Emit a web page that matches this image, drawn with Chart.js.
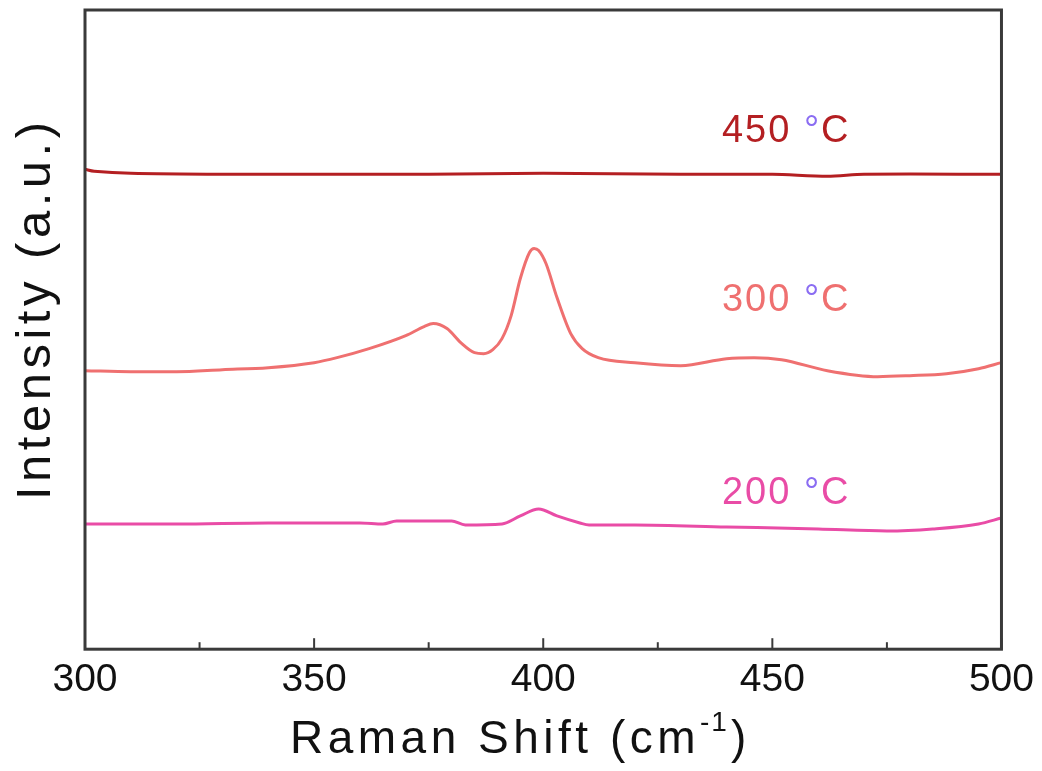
<!DOCTYPE html>
<html>
<head>
<meta charset="utf-8">
<script src="https://cdn.jsdelivr.net/npm/chart.js@4.4.1/dist/chart.umd.min.js"></script>
<style>
  html, body { margin: 0; padding: 0; background: #fff; }
  #wrap { width: 1042px; height: 771px; position: relative; }
</style>
</head>
<body>
<div id="wrap"><canvas id="ramanChart"></canvas></div>
<script>
// Raman shift (cm-1) and offset intensity (a.u.)
const shift450 = [300, 302, 310, 330, 350, 375, 400, 430, 450, 462, 470, 500];
const int450   = [479, 477, 475, 474, 474, 474, 475, 474, 474, 472, 474, 474];

const shift300 = [300, 310, 320, 330, 340, 350, 355, 362, 370, 374, 376, 379, 382, 385, 387, 389, 391, 393, 395, 397, 398, 399, 400.6, 403, 406, 408.5, 412, 420, 430, 440, 446, 452, 462, 473, 480, 488, 495, 500];
const int300   = [278, 277, 277, 279, 281, 286, 291, 300, 313, 322, 325, 320, 306, 296, 295, 299, 310, 333, 370, 396, 400, 398, 385, 351, 315, 300, 291, 286, 283, 290, 291, 289, 278, 272, 273, 275, 280, 286];

const shift200 = [300, 320, 340, 360, 365, 368, 380, 383, 391, 395, 399, 403, 408, 410, 420, 440, 460, 475, 485, 495, 500];
const int200   = [125, 125, 126, 126, 125, 128, 128, 124, 125, 133, 140, 133, 126, 124, 124, 122, 120, 118, 120, 125, 131];

const xTicks = [300, 350, 400, 450, 500];
const minorTicks = [325, 375, 425, 475];

const seriesNames = ['450', '300', '200'];
const lineColors = ['#b41f22', '#ef7070', '#e94ca6'];
const labelY = [506, 338, 145];
const labelX = 439;

const FONT = '"Liberation Sans", Arial, sans-serif';

function pts(xs, ys) {
    return xs.map((x, i) => ({ x: x, y: ys[i] }));
}

// frame + inward ticks on the bottom axis
const framePlugin = {
    id: 'frame',
    afterDatasetsDraw(chart) {
        const { ctx, chartArea: a, scales } = chart;
        ctx.save();
        ctx.strokeStyle = '#3a3a3a';
        ctx.lineWidth = 3;
        ctx.strokeRect(a.left, a.top, a.right - a.left, a.bottom - a.top);
        ctx.lineWidth = 2;
        xTicks.forEach(v => {
            const px = scales.x.getPixelForValue(v);
            ctx.beginPath(); ctx.moveTo(px, a.bottom); ctx.lineTo(px, a.bottom - 11); ctx.stroke();
        });
        minorTicks.forEach(v => {
            const px = scales.x.getPixelForValue(v);
            ctx.beginPath(); ctx.moveTo(px, a.bottom); ctx.lineTo(px, a.bottom - 7); ctx.stroke();
        });
        ctx.restore();
    }
};

// "xxx °C" labels with the purple degree sign, plus the axis titles
const labelPlugin = {
    id: 'tempLabels',
    afterDatasetsDraw(chart) {
        const { ctx, scales, chartArea: a } = chart;
        ctx.save();
        ctx.font = '38px ' + FONT;
        ctx.letterSpacing = '2px';
        ctx.textBaseline = 'alphabetic';
        ctx.textAlign = 'left';
        seriesNames.forEach((name, i) => {
            let x = scales.x.getPixelForValue(labelX);
            const y = scales.y.getPixelForValue(labelY[i]);
            ctx.fillStyle = lineColors[i];
            ctx.fillText(name + ' ', x, y);
            x += ctx.measureText(name + ' ').width;
            ctx.fillStyle = '#8a6cf2';
            ctx.fillText('°', x, y);
            x += ctx.measureText('°').width;
            ctx.fillStyle = lineColors[i];
            ctx.fillText('C', x, y);
        });

        // x title with superscript -1
        ctx.fillStyle = '#111';
        ctx.font = '46px ' + FONT;
        ctx.letterSpacing = '4.5px';
        let tx = a.left + 205;
        const ty = 753;
        ctx.fillText('Raman Shift (cm', tx, ty);
        tx += ctx.measureText('Raman Shift (cm').width;
        ctx.font = '28px ' + FONT;
        ctx.letterSpacing = '2px';
        ctx.fillText('-1', tx, ty - 22);
        tx += ctx.measureText('-1').width + 2;
        ctx.font = '46px ' + FONT;
        ctx.fillText(')', tx, ty);

        // y title
        ctx.font = '49px ' + FONT;
        ctx.letterSpacing = '4.5px';
        ctx.translate(a.left - 35, 500);
        ctx.rotate(-Math.PI / 2);
        ctx.fillText('Intensity (a.u.)', 0, 0);
        ctx.restore();
    }
};

new Chart(document.getElementById('ramanChart'), {
    type: 'line',
    data: {
        datasets: [
            { label: '450 °C', data: pts(shift450, int450), borderColor: lineColors[0], borderWidth: 3, pointRadius: 0, tension: 0.3, fill: false },
            { label: '300 °C', data: pts(shift300, int300), borderColor: lineColors[1], borderWidth: 3, pointRadius: 0, cubicInterpolationMode: 'monotone', fill: false },
            { label: '200 °C', data: pts(shift200, int200), borderColor: lineColors[2], borderWidth: 3, pointRadius: 0, cubicInterpolationMode: 'monotone', fill: false }
        ]
    },
    options: {
        responsive: true,
        maintainAspectRatio: false,
        animation: false,
        layout: { padding: { top: 10, right: 37, left: 85, bottom: 59 } },
        plugins: {
            legend: { display: false },
            tooltip: { enabled: false }
        },
        scales: {
            x: {
                type: 'linear',
                min: 300,
                max: 500,
                grid: { display: false, drawTicks: false },
                border: { display: false },
                afterBuildTicks(axis) { axis.ticks = xTicks.map(v => ({ value: v })); },
                ticks: {
                    padding: 8,
                    color: '#111',
                    font: { family: FONT, size: 39 }
                }
            },
            y: {
                display: false,
                min: 0,
                max: 638
            }
        }
    },
    plugins: [framePlugin, labelPlugin]
});
</script>
</body>
</html>
